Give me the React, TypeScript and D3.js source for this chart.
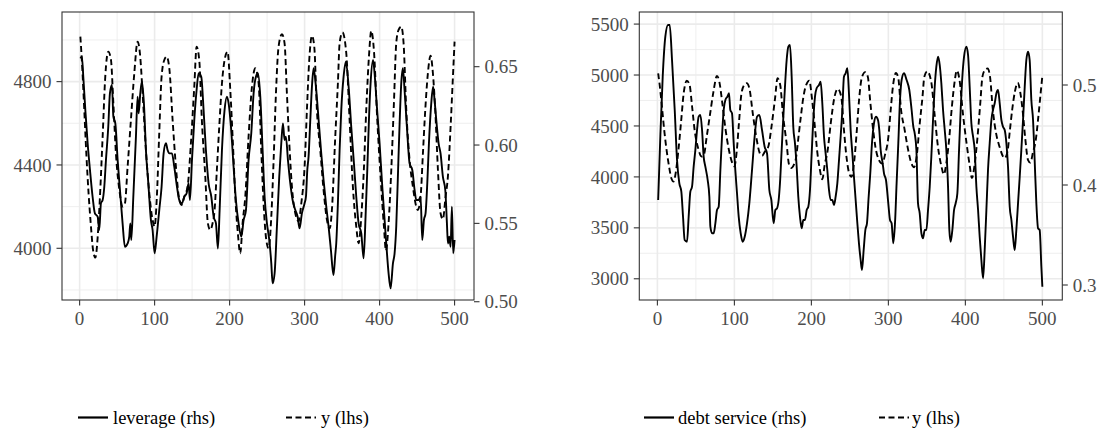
import React from "react";
import * as d3 from "d3";

// ---------- data ----------
const xTicks = [0, 100, 200, 300, 400, 500];

// y (lhs, dashed) — shared by both panels
const yT = [1, 3, 6, 9, 12, 15, 18, 21, 24, 27, 30.7, 34.2, 38.2, 41.8, 45, 48.4, 53, 57.3, 60.4, 64, 68.4, 72.9, 77.3, 80.4, 84, 88.4, 92.9, 97.3, 100, 103, 106, 109.3, 112.9, 116, 119.6, 124, 128.4, 133, 136, 139.6, 144, 148.4, 152.9, 156, 159.6, 163, 167.6, 171, 174.2, 177.3, 180, 183, 186.2, 189.8, 193.3, 197.3, 200.9, 204.4, 207.6, 211, 214.2, 217.3, 220.9, 225.3, 229.8, 234.2, 238.7, 242.2, 245.3, 248.9, 252, 255.6, 258.7, 261.8, 265.3, 269.8, 273.3, 276.4, 279.6, 283.1, 287.6, 292, 295.6, 300, 303.1, 306.2, 309.8, 312.9, 316.4, 320.9, 325.3, 329.8, 333.5, 336.4, 340.9, 344.4, 346.7, 350.5, 355.6, 360, 364.4, 368.9, 372, 375.6, 379, 382.2, 385.8, 388.9, 392.4, 396.9, 401.3, 405.8, 408.5, 412, 415.6, 419.1, 422.2, 425.3, 428.9, 432, 435.6, 440, 444.4, 448.9, 451, 454.7, 457.8, 460.9, 464.4, 468, 471.1, 474.2, 477.8, 481.3, 484.4, 488, 491.1, 494.7, 497.8, 500];
const yV = [5016, 4900, 4680, 4450, 4260, 4110, 3990, 3955, 4050, 4240, 4536, 4824, 4944, 4904, 4696, 4456, 4280, 4200, 4216, 4392, 4616, 4840, 4992, 4936, 4744, 4472, 4264, 4136, 4104, 4248, 4536, 4824, 4904, 4920, 4864, 4616, 4392, 4232, 4208, 4248, 4296, 4504, 4776, 4968, 4900, 4616, 4344, 4120, 4088, 4120, 4184, 4376, 4584, 4792, 4904, 4944, 4760, 4504, 4248, 4072, 3976, 4120, 4248, 4536, 4776, 4864, 4792, 4472, 4216, 4040, 4000, 4152, 4424, 4744, 4968, 5028, 4984, 4744, 4504, 4296, 4168, 4130, 4216, 4392, 4664, 4904, 5020, 4968, 4664, 4472, 4280, 4136, 4095, 4184, 4536, 4792, 4984, 5036, 4936, 4616, 4296, 4104, 4024, 4152, 4376, 4664, 4920, 5044, 4952, 4616, 4344, 4104, 3988, 4120, 4376, 4696, 4984, 5048, 5064, 4984, 4664, 4424, 4296, 4200, 4184, 4248, 4456, 4664, 4840, 4924, 4840, 4664, 4376, 4168, 4140, 4248, 4344, 4584, 4824, 4992];

// leverage (rhs, solid) — left panel
const levT = [1, 3, 4.9, 7.6, 10.7, 13.8, 17.3, 20.4, 24, 26.2, 28.4, 30.7, 32.9, 35.1, 38.2, 40.4, 43.1, 45, 47.6, 50.7, 53.8, 57.3, 60.4, 64, 66.2, 67.6, 68.9, 71.6, 75.1, 77.3, 78.7, 80.9, 83.1, 86.2, 88.4, 91.6, 95.1, 97.3, 100, 102.7, 106.2, 109.3, 112, 115.1, 117.3, 119.6, 123.1, 126.2, 129.8, 132.9, 136.4, 139.6, 142.7, 145.3, 147.1, 149.8, 152.9, 156, 158.7, 162.2, 165.3, 168.4, 172, 175.6, 178.7, 181.8, 184.4, 186.7, 189.8, 193.3, 196.4, 198.7, 201.8, 205.3, 208.4, 212, 215.6, 218.7, 221.8, 225.3, 228.9, 232, 235.1, 237.8, 240.9, 244, 246.7, 249.8, 252.9, 255.6, 257.3, 260, 263.1, 266.2, 268.9, 271.1, 273.3, 275.1, 277.8, 280.9, 284, 287.6, 290.7, 293.3, 296.4, 300, 301.8, 303.6, 305.3, 307.6, 309.8, 312, 315.1, 318.7, 322.2, 325.3, 328.9, 332, 335.1, 338.5, 340.9, 342.2, 344.4, 346.7, 348.9, 352, 355, 358.7, 362.2, 365.8, 368.9, 372, 375.6, 378.7, 381.3, 383.6, 385.8, 388, 391.3, 393.3, 396.4, 400, 403.6, 406.7, 408.9, 412, 414.7, 417.8, 420, 422.2, 424.4, 426.7, 428.9, 431.1, 433.3, 436.4, 440, 443.6, 446.7, 448.9, 452, 454.7, 456.9, 459.1, 461.3, 463.6, 465.8, 468.9, 471.3, 473.3, 476, 478.7, 481.3, 484.4, 487.6, 489.8, 491.1, 492.9, 494.7, 496.4, 498.2, 500];
const levV = [0.6553, 0.6564, 0.6436, 0.6224, 0.6011, 0.5841, 0.567, 0.5564, 0.5543, 0.5458, 0.5628, 0.5649, 0.5734, 0.5904, 0.6117, 0.633, 0.6383, 0.6181, 0.6138, 0.5904, 0.5713, 0.55, 0.5351, 0.5372, 0.5415, 0.55, 0.5394, 0.567, 0.6054, 0.6309, 0.6202, 0.633, 0.6405, 0.6224, 0.5968, 0.5756, 0.5521, 0.5458, 0.5309, 0.5415, 0.5585, 0.5734, 0.5947, 0.6011, 0.5968, 0.5947, 0.5947, 0.5862, 0.5734, 0.5649, 0.5628, 0.567, 0.5692, 0.5756, 0.5649, 0.5904, 0.616, 0.6351, 0.6458, 0.6436, 0.6224, 0.5968, 0.5756, 0.567, 0.5543, 0.55, 0.534, 0.5585, 0.5968, 0.6224, 0.6309, 0.6266, 0.6117, 0.5862, 0.5649, 0.55, 0.5415, 0.5521, 0.5585, 0.5904, 0.6075, 0.633, 0.6436, 0.6458, 0.6309, 0.5968, 0.567, 0.55, 0.5394, 0.5245, 0.5117, 0.5181, 0.5479, 0.5798, 0.6011, 0.6138, 0.6032, 0.6053, 0.5904, 0.5756, 0.5649, 0.5585, 0.5543, 0.5468, 0.5564, 0.5628, 0.567, 0.5841, 0.5926, 0.616, 0.6373, 0.649, 0.6373, 0.616, 0.5947, 0.5777, 0.5607, 0.5479, 0.533, 0.517, 0.53, 0.5372, 0.5628, 0.5968, 0.6224, 0.6436, 0.6532, 0.6373, 0.6117, 0.5883, 0.567, 0.55, 0.5436, 0.5277, 0.5543, 0.5841, 0.616, 0.6394, 0.6543, 0.6458, 0.6245, 0.6011, 0.5734, 0.5521, 0.5372, 0.5181, 0.5085, 0.5245, 0.5309, 0.5479, 0.5798, 0.6138, 0.6394, 0.649, 0.6351, 0.6117, 0.5883, 0.5841, 0.5713, 0.5649, 0.5649, 0.567, 0.5394, 0.5521, 0.5564, 0.5756, 0.6011, 0.6266, 0.6373, 0.6287, 0.6138, 0.6011, 0.5947, 0.5798, 0.5713, 0.55, 0.5372, 0.5415, 0.5351, 0.5607, 0.5309, 0.5394];

// debt service (rhs, solid) — right panel
const dsT = [1, 3.8, 6.9, 10.3, 13.8, 16, 19, 22.5, 25.5, 28.5, 31.1, 33.3, 35.4, 38.5, 40.6, 42.8, 45, 47.1, 49.3, 51.5, 53.6, 55.8, 58, 60.1, 62.3, 65.3, 67.5, 68.8, 71, 73.1, 75.3, 77.4, 79.6, 81.8, 83.9, 86.1, 88.3, 90.9, 93, 94.7, 96.9, 99.1, 101.2, 103.4, 105.6, 108.2, 110.8, 113.4, 116.4, 119.4, 122.9, 126.3, 129.4, 132.4, 135.9, 139.3, 142.4, 145.4, 148, 151, 153.2, 155.4, 157.5, 159.2, 161.4, 163.6, 165.7, 167.9, 170.1, 172.2, 174.4, 176.5, 178.7, 180.9, 183, 185.2, 187.4, 189.5, 191.7, 193.9, 196, 198.2, 200.4, 202.5, 204.7, 206.8, 209.9, 212, 214.2, 216.4, 218.5, 220.7, 222.9, 225, 227.2, 229.4, 231.5, 233.7, 235.9, 238, 240.2, 242.3, 244.5, 246.7, 248.8, 251, 253.2, 255.3, 257.5, 259.7, 261.8, 264, 265.7, 267.9, 270.1, 272.2, 274.4, 276.5, 278.7, 281.3, 283.9, 286.5, 288.2, 290, 292.6, 294.3, 296.9, 299.9, 302.1, 304.2, 306.4, 308.6, 310.7, 312.9, 315.1, 317.2, 320.3, 323.7, 327.2, 330.2, 332.4, 334.2, 336.4, 338.5, 340.7, 342.9, 345, 347.2, 349.4, 351.5, 353.7, 355.8, 358, 360.2, 362.3, 364.5, 366.7, 368.8, 371, 373.2, 375.3, 377.5, 379.2, 380.9, 383.1, 385.3, 387.4, 389.6, 391.8, 393.9, 396.1, 398.3, 401.3, 403.5, 405.6, 407.8, 410, 412.1, 414.3, 416.5, 418.6, 420.8, 423, 425.1, 427.3, 429.4, 431.6, 433.8, 435.9, 438.1, 440.3, 442.4, 444.6, 446.8, 448.9, 451.1, 453.3, 455.4, 457.6, 459.8, 461.9, 464.1, 466.2, 468.4, 470.6, 472.7, 474.9, 477.1, 479.2, 481.4, 483.5, 485.7, 487.9, 490, 492.2, 494.4, 496.5, 498.7, 500];
const dsV = [0.385, 0.4483, 0.5083, 0.5483, 0.56, 0.56, 0.525, 0.475, 0.425, 0.4017, 0.3933, 0.3683, 0.345, 0.3433, 0.3683, 0.3933, 0.3983, 0.4183, 0.435, 0.455, 0.4683, 0.47, 0.455, 0.4283, 0.4183, 0.405, 0.3883, 0.3583, 0.3517, 0.3517, 0.3617, 0.375, 0.3783, 0.415, 0.4483, 0.475, 0.485, 0.4883, 0.4917, 0.475, 0.4717, 0.4417, 0.415, 0.3917, 0.3683, 0.3517, 0.3433, 0.3483, 0.3617, 0.3817, 0.415, 0.4483, 0.4683, 0.47, 0.455, 0.4383, 0.4317, 0.395, 0.385, 0.3617, 0.375, 0.3767, 0.385, 0.4017, 0.435, 0.4683, 0.4983, 0.525, 0.5383, 0.54, 0.5083, 0.4583, 0.4417, 0.4183, 0.3883, 0.3683, 0.3567, 0.365, 0.365, 0.375, 0.3783, 0.395, 0.4317, 0.465, 0.4883, 0.4967, 0.5, 0.5033, 0.4817, 0.4483, 0.4317, 0.415, 0.395, 0.385, 0.385, 0.38, 0.3883, 0.4017, 0.425, 0.4483, 0.475, 0.5083, 0.5117, 0.5167, 0.4917, 0.455, 0.4317, 0.4083, 0.385, 0.3617, 0.3417, 0.325, 0.315, 0.335, 0.355, 0.3617, 0.3883, 0.4117, 0.4417, 0.4617, 0.4683, 0.465, 0.455, 0.435, 0.4217, 0.4117, 0.405, 0.3817, 0.365, 0.3617, 0.3417, 0.3617, 0.4017, 0.4417, 0.485, 0.505, 0.5117, 0.505, 0.495, 0.475, 0.4583, 0.4517, 0.435, 0.3817, 0.3717, 0.3517, 0.3467, 0.355, 0.355, 0.375, 0.3983, 0.4283, 0.465, 0.4983, 0.5183, 0.5283, 0.52, 0.5017, 0.475, 0.455, 0.435, 0.3983, 0.355, 0.3433, 0.355, 0.375, 0.3817, 0.3917, 0.435, 0.475, 0.5083, 0.5283, 0.5383, 0.53, 0.4983, 0.4617, 0.4483, 0.435, 0.3983, 0.375, 0.3483, 0.325, 0.3067, 0.335, 0.375, 0.415, 0.4417, 0.465, 0.475, 0.4817, 0.4917, 0.495, 0.4817, 0.465, 0.4583, 0.455, 0.4417, 0.4183, 0.3783, 0.365, 0.3483, 0.335, 0.355, 0.3817, 0.4083, 0.435, 0.465, 0.4983, 0.525, 0.5333, 0.525, 0.485, 0.465, 0.425, 0.3817, 0.3567, 0.355, 0.3183, 0.2983];

const lhsTicksA = [4000, 4400, 4800];
const rhsTicksA = [0.5, 0.55, 0.6, 0.65];
const lhsTicksB = [3000, 3500, 4000, 4500, 5000, 5500];
const rhsTicksB = [0.3, 0.4, 0.5];

const legendA = ["leverage (rhs)", "y (lhs)"];
const legendB = ["debt service (rhs)", "y (lhs)"];

// ---------- styling ----------
const FONT = '"Liberation Serif", "Times New Roman", serif';
const AXIS_COL = "#4D4D4D";
const GRID = "#EBEBEB";
const DASH = "6,3.5";

type PanelProps = {
  left: number; right: number; top: number; bottom: number;
  xDomain: [number, number];
  lhsDomain: [number, number];
  rhsDomain: [number, number];
  lhsTicks: number[];
  rhsTicks: number[];
  rhsFmt: string;
  solidT: number[]; solidV: number[];
  legend: string[];
  legendX: number[]; // [solidKeyX, solidTextX, dashKeyX, dashTextX]
};

function Panel(p: PanelProps) {
  const x = d3.scaleLinear().domain(p.xDomain).range([p.left, p.right]);
  const yl = d3.scaleLinear().domain(p.lhsDomain).range([p.bottom, p.top]);
  const yr = d3.scaleLinear().domain(p.rhsDomain).range([p.bottom, p.top]);
  const step = p.lhsTicks[1] - p.lhsTicks[0];
  const minorY: number[] = [];
  for (let v = p.lhsTicks[0] - step / 2; v <= p.lhsDomain[1]; v += step) {
    if (v >= p.lhsDomain[0]) minorY.push(v);
  }
  const xstep = xTicks[1] - xTicks[0];
  const minorX: number[] = [];
  for (let v = xTicks[0] - xstep / 2; v <= p.xDomain[1]; v += xstep) {
    if (v >= p.xDomain[0]) minorX.push(v);
  }
  const solid = d3.line<number>()
    .x((_, i) => x(p.solidT[i]))
    .y((v) => yr(v))
    .curve(d3.curveMonotoneX)(p.solidV) || "";
  const dashed = d3.line<number>()
    .x((_, i) => x(yT[i]))
    .y((v) => yl(v))
    .curve(d3.curveMonotoneX)(yV) || "";
  const fmt = d3.format(p.rhsFmt);
  const tick = 5.5;
  const legY = 417.5;
  const [k1, t1, k2, t2] = p.legendX;
  return (
    <g>
      <rect x={p.left} y={p.top} width={p.right - p.left} height={p.bottom - p.top} fill="#fff" />
      {minorY.map((v) => (
        <line key={"my" + v} x1={p.left} x2={p.right} y1={yl(v)} y2={yl(v)} stroke={GRID} strokeWidth={0.8} />
      ))}
      {minorX.map((v) => (
        <line key={"mx" + v} y1={p.top} y2={p.bottom} x1={x(v)} x2={x(v)} stroke={GRID} strokeWidth={0.8} />
      ))}
      {p.lhsTicks.map((v) => (
        <line key={"gy" + v} x1={p.left} x2={p.right} y1={yl(v)} y2={yl(v)} stroke={GRID} strokeWidth={1.6} />
      ))}
      {xTicks.map((v) => (
        <line key={"gx" + v} y1={p.top} y2={p.bottom} x1={x(v)} x2={x(v)} stroke={GRID} strokeWidth={1.6} />
      ))}
      <path d={dashed} fill="none" stroke="#000" strokeWidth={1.9} strokeDasharray={DASH} />
      <path d={solid} fill="none" stroke="#000" strokeWidth={1.9} strokeLinejoin="round" />
      <rect x={p.left} y={p.top} width={p.right - p.left} height={p.bottom - p.top} fill="none" stroke="#333" strokeWidth={1.1} />
      {/* left axis */}
      {p.lhsTicks.map((v) => (
        <g key={"lt" + v}>
          <line x1={p.left - tick} x2={p.left} y1={yl(v)} y2={yl(v)} stroke="#333" strokeWidth={1.1} />
          <text x={p.left - tick - 5} y={yl(v)} dy="0.35em" textAnchor="end" fontFamily={FONT} fontSize={19} fill={AXIS_COL}>
            {v}
          </text>
        </g>
      ))}
      {/* right axis */}
      {p.rhsTicks.map((v) => (
        <g key={"rt" + v}>
          <line x1={p.right} x2={p.right + tick} y1={yr(v)} y2={yr(v)} stroke="#333" strokeWidth={1.1} />
          <text x={p.right + tick + 5} y={yr(v)} dy="0.35em" textAnchor="start" fontFamily={FONT} fontSize={19} fill={AXIS_COL}>
            {fmt(v)}
          </text>
        </g>
      ))}
      {/* bottom axis */}
      {xTicks.map((v) => (
        <g key={"bt" + v}>
          <line x1={x(v)} x2={x(v)} y1={p.bottom} y2={p.bottom + tick} stroke="#333" strokeWidth={1.1} />
          <text x={x(v)} y={p.bottom + tick + 5} dy="0.75em" textAnchor="middle" fontFamily={FONT} fontSize={19} fill={AXIS_COL}>
            {v}
          </text>
        </g>
      ))}
      {/* legend */}
      <line x1={k1} x2={k1 + 30} y1={legY} y2={legY} stroke="#000" strokeWidth={2.2} />
      <text x={t1} y={legY} dy="0.33em" fontFamily={FONT} fontSize={18.5} fill="#000">{p.legend[0]}</text>
      <line x1={k2} x2={k2 + 30} y1={legY} y2={legY} stroke="#000" strokeWidth={2.2} strokeDasharray={DASH} />
      <text x={t2} y={legY} dy="0.33em" fontFamily={FONT} fontSize={18.5} fill="#000">{p.legend[1]}</text>
    </g>
  );
}

export default function App() {
  const xDomain: [number, number] = [-23.5, 525.9];
  return (
    <svg width={1105} height={429} style={{ position: "absolute", left: 0, top: 0, background: "#fff" }}>
      <rect x={0} y={0} width={1105} height={429} fill="#fff" />
      <Panel
        left={62} right={474} top={12} bottom={300}
        xDomain={xDomain}
        lhsDomain={[3751.8, 5134.2]}
        rhsDomain={[0.5011, 0.6849]}
        lhsTicks={lhsTicksA}
        rhsTicks={rhsTicksA}
        rhsFmt=".2f"
        solidT={levT} solidV={levV}
        legend={legendA}
        legendX={[78, 113, 286, 321]}
      />
      <Panel
        left={639.3} right={1062.3} top={12} bottom={300}
        xDomain={xDomain}
        lhsDomain={[2791.7, 5618.6]}
        rhsDomain={[0.285, 0.573]}
        lhsTicks={lhsTicksB}
        rhsTicks={rhsTicksB}
        rhsFmt=".1f"
        solidT={dsT} solidV={dsV}
        legend={legendB}
        legendX={[644, 678, 879, 912]}
      />
    </svg>
  );
}
